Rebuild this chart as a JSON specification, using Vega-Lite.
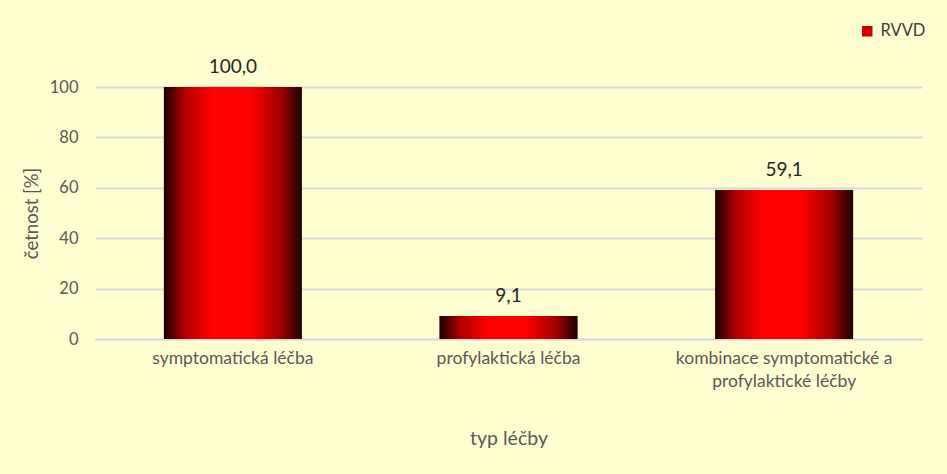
{
  "$schema": "https://vega.github.io/schema/vega-lite/v6.json",
  "width": 827,
  "height": 252,
  "autosize": {"type": "none"},
  "padding": {"left": 95, "top": 87, "right": 25, "bottom": 135},
  "background": "#FFFED0",
  "data": {
    "values": [
      {"typ": "symptomatická léčba", "skupina": "RVVD", "procento": 100.0},
      {"typ": "profylaktická léčba", "skupina": "RVVD", "procento": 9.1},
      {"typ": "kombinace symptomatické a profylaktické léčby", "skupina": "RVVD", "procento": 59.1}
    ]
  },
  "encoding": {
    "x": {
      "field": "typ",
      "type": "nominal",
      "sort": null,
      "scale": {"paddingInner": 0.5, "paddingOuter": 0.25},
      "axis": {
        "title": "typ léčby",
        "labelAngle": 0,
        "labelExpr": "datum.label == 'kombinace symptomatické a profylaktické léčby' ? ['kombinace symptomatické a', 'profylaktické léčby'] : datum.label",
        "labelLimit": 400,
        "labelPadding": 10,
        "labelFontSize": 17.5,
        "labelColor": "#595959",
        "labelLineHeight": 23,
        "ticks": false,
        "domainColor": "#D9D9D9",
        "domainWidth": 2,
        "titleFontSize": 19.5,
        "titleFontWeight": "normal",
        "titleColor": "#595959",
        "titlePadding": 40
      }
    },
    "y": {
      "field": "procento",
      "type": "quantitative",
      "scale": {"domain": [0, 100]},
      "axis": {
        "title": "četnost [%]",
        "values": [0, 20, 40, 60, 80, 100],
        "domain": false,
        "ticks": false,
        "labelPadding": 17,
        "labelFontSize": 16.5,
        "labelColor": "#595959",
        "gridColor": "#D9D9D9",
        "gridWidth": 2,
        "titleFontSize": 18.5,
        "titleFontWeight": "normal",
        "titleColor": "#595959",
        "titlePadding": 8
      }
    }
  },
  "layer": [
    {
      "mark": {"type": "bar"},
      "encoding": {
        "color": {
          "field": "skupina",
          "type": "nominal",
          "scale": {"range": ["#D00000"]},
          "legend": {
            "title": null,
            "orient": "none",
            "legendX": 764,
            "legendY": -64,
            "symbolType": "square",
            "symbolSize": 110,
            "labelFontSize": 16.5,
            "labelColor": "#404040",
            "labelOffset": 5
          }
        }
      }
    },
    {
      "mark": {
        "type": "bar",
        "color": {
          "gradient": "linear",
          "x1": 0, "y1": 0, "x2": 1, "y2": 0,
          "stops": [
            {"offset": 0, "color": "#1A0000"},
            {"offset": 0.15, "color": "#B00000"},
            {"offset": 0.35, "color": "#FF0000"},
            {"offset": 0.62, "color": "#FF0000"},
            {"offset": 0.85, "color": "#A00000"},
            {"offset": 1, "color": "#1A0000"}
          ]
        }
      }
    },
    {
      "mark": {"type": "text", "dy": -10, "baseline": "bottom", "fontSize": 19, "color": "#262626"},
      "encoding": {
        "text": {"field": "procento", "type": "quantitative", "format": ".1f"}
      }
    }
  ],
  "config": {
    "font": "Lato",
    "view": {"stroke": null},
    "locale": {
      "number": {"decimal": ",", "thousands": " ", "grouping": [3], "currency": ["", " Kč"]}
    }
  }
}
